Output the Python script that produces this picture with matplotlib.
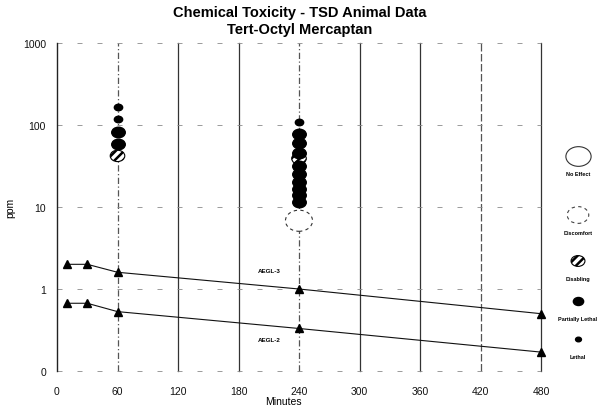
import matplotlib
matplotlib.use("Agg")
import matplotlib.pyplot as plt
from matplotlib.path import Path
from matplotlib.transforms import Affine2D

plt.rcParams['font.family'] = ['Liberation Sans', 'DejaVu Sans']
plt.rcParams['hatch.linewidth'] = 1.8

# AEGL guideline levels (ppm) by exposure duration (minutes)
aegl_minutes = [10, 30, 60, 240, 480]
aegl3_ppm = [2.0, 2.0, 1.6, 1.0, 0.50]
aegl2_ppm = [0.67, 0.67, 0.53, 0.33, 0.17]

# Animal exposure results grouped by observed effect
discomfort_min = [240]
discomfort_ppm = [6.8]
disabling_min = [60, 240]
disabling_ppm = [42, 39]
partial_min = [60, 60, 240, 240, 240, 240, 240, 240, 240, 240, 240]
partial_ppm = [82, 58, 77, 61, 45, 32, 25, 20, 16.5, 14, 11.5]
lethal_min = [60, 60, 240]
lethal_ppm = [166, 119, 108]

x_ticks = [0, 60, 120, 180, 240, 300, 360, 420, 480]
y_ticks = [0.1, 1, 10, 100, 1000]
y_tick_labels = ["0", "1", "10", "100", "1000"]
effect_labels = ["No Effect", "Discomfort", "Disabling", "Partially Lethal", "Lethal"]

# Ellipse-shaped marker (wider than tall)
ellipse = Affine2D().scale(1.0, 0.78).transform_path(Path.unit_circle())

W, H = 603, 406
fig = plt.figure(figsize=(W / 100, H / 100), dpi=100)
fig.patch.set_facecolor('white')

ax = fig.add_axes([57 / W, 1 - 372 / H, 484 / W, 328 / H])
ax.set_yscale('log')
ax.set_xlim(0, 480)
ax.set_ylim(0.1, 1000)
ax.set_xticks(x_ticks)
ax.set_xticklabels([str(v) for v in x_ticks])
ax.set_yticks(y_ticks)
ax.set_yticklabels(y_tick_labels)
ax.yaxis.set_minor_locator(matplotlib.ticker.NullLocator())
ax.tick_params(axis='both', length=0, labelsize=7.5, colors='#111111')
ax.tick_params(axis='x', pad=11)
ax.tick_params(axis='y', pad=8)
for side in ['top', 'right', 'bottom']:
    ax.spines[side].set_visible(False)
ax.spines['left'].set_color('#222222')
ax.spines['left'].set_linewidth(1.0)

# Vertical grid every hour
v_styles = {60: (0, (5, 2, 1, 2)), 240: (0, (5, 2, 1, 2)), 420: (0, (6, 2))}
for xv in x_ticks[1:]:
    ls = v_styles.get(xv, '-')
    col = '#555555' if xv in v_styles else '#333333'
    ax.axvline(xv, color=col, lw=0.9, ls=ls, zorder=1, clip_on=False)

# Sparse horizontal grid on each decade
for yv in y_ticks:
    ax.axhline(yv, color='#8a8a8a', lw=0.6, ls=(0, (6, 18)), zorder=1, clip_on=False)

# AEGL lines
ax.plot(aegl_minutes, aegl3_ppm, color='#111111', lw=0.8, marker='^', ms=5.5,
        mfc='black', mec='black', zorder=3, clip_on=False)
ax.plot(aegl_minutes, aegl2_ppm, color='#111111', lw=0.8, marker='^', ms=5.5,
        mfc='black', mec='black', zorder=3, clip_on=False)
ax.text(211, 1.66, "AEGL-3", fontsize=4.5, fontweight='bold', ha='center', va='center')
ax.text(211, 0.245, "AEGL-2", fontsize=4.5, fontweight='bold', ha='center', va='center')

# Effect markers
ax.scatter(discomfort_min, discomfort_ppm, s=380, marker=ellipse, facecolors='white',
           edgecolors='#333333', linewidths=0.8, linestyles=(0, (3, 3)), zorder=4)
ax.scatter(disabling_min, disabling_ppm, s=110, marker=ellipse, facecolors='white',
           edgecolors='black', hatch='////', linewidths=0.8, zorder=5)
ax.scatter(partial_min, partial_ppm, s=95, marker=ellipse, color='black', zorder=6)
ax.scatter(lethal_min, lethal_ppm, s=36, marker=ellipse, color='black', zorder=7)

# Key on the right: marker above its label
key = fig.add_axes([0, 0, 1, 1], zorder=-1)
key.set_xlim(0, W)
key.set_ylim(H, 0)
key.axis('off')
key_y = [157, 216, 262, 302, 340]
key_style = [
    dict(s=330, facecolors='white', edgecolors='#333333', linewidths=0.8),
    dict(s=240, facecolors='white', edgecolors='#444444', linewidths=0.8, linestyles=(0, (3, 3))),
    dict(s=100, facecolors='white', edgecolors='black', hatch='////', linewidths=0.8),
    dict(s=55, color='black'),
    dict(s=18, color='black'),
]
for lab, yk, st in zip(effect_labels, key_y, key_style):
    key.scatter([578], [yk], marker=ellipse, **st)
    key.text(578, yk + 18, lab, fontsize=4, fontweight='bold', ha='center', va='center')

fig.text(300 / W, 1 - 13 / H, "Chemical Toxicity - TSD Animal Data", fontsize=10.5,
         fontweight='bold', ha='center', va='center')
fig.text(300 / W, 1 - 30 / H, "Tert-Octyl Mercaptan", fontsize=10.5,
         fontweight='bold', ha='center', va='center')
fig.text(10 / W, 1 - 208 / H, "ppm", fontsize=7.5, rotation=90, ha='center', va='center')
fig.text(283 / W, 1 - 402 / H, "Minutes", fontsize=7.5, ha='center', va='center')

fig.savefig("out.png", dpi=100, facecolor='white')
